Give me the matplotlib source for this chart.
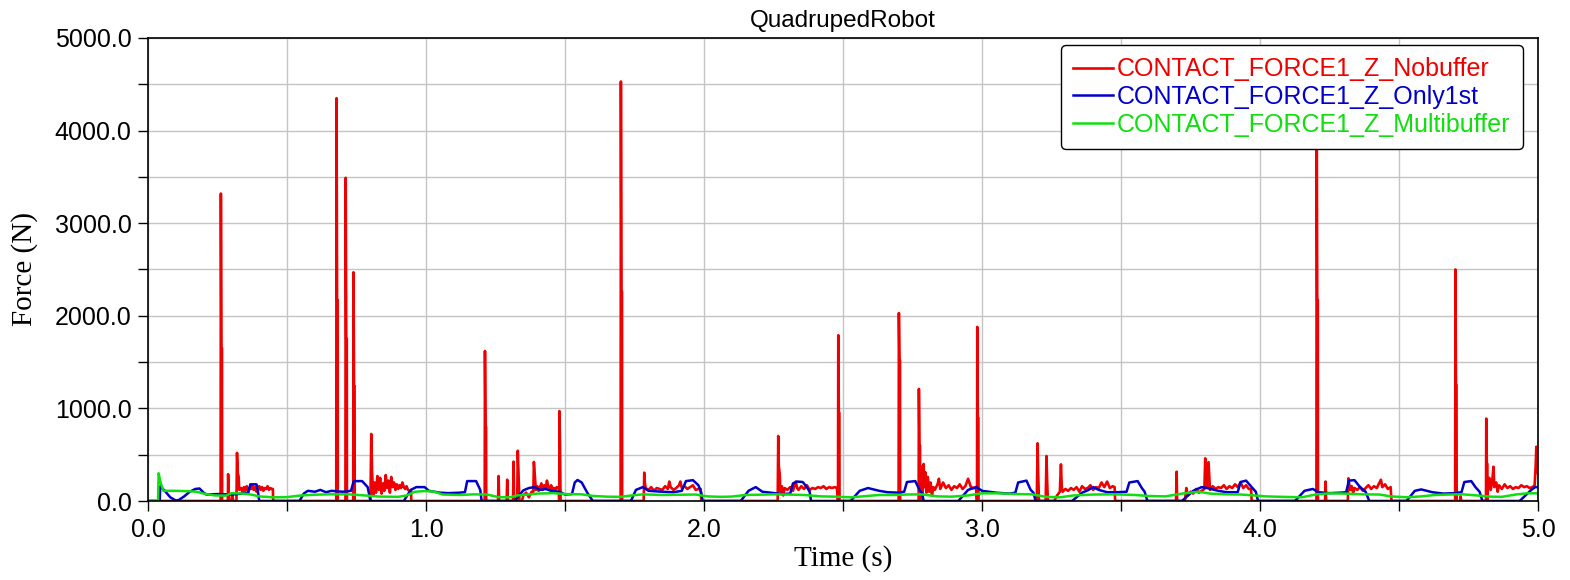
import numpy as np
import matplotlib.pyplot as plt
from matplotlib.ticker import MultipleLocator, FormatStrFormatter

plt.rcParams['font.family'] = ['Liberation Sans', 'DejaVu Sans']

# big red spikes (time, peak, lower thick part)
spike_t = [0.262, 0.678, 0.711, 0.739, 1.212, 1.701, 2.483, 2.701, 2.773, 2.983, 4.204, 4.703, 4.814]
spike_peak = [3320, 4350, 3490, 2470, 1620, 4530, 1790, 2030, 1210, 1880, 4300, 2500, 890]
spike_mid = [1650, 2170, 1750, 1240, 800, 2260, 950, 1520, 600, 900, 2170, 1250, 400]

# red (Nobuffer) rest of the trace
red_t = [0.000, 0.258, 0.268, 0.287, 0.288, 0.291, 0.300, 0.303, 0.306, 0.318, 0.320, 0.323, 0.326, 0.328,
         0.335, 0.340, 0.345, 0.350, 0.355, 0.360, 0.365, 0.370, 0.375, 0.380, 0.385, 0.390, 0.395, 0.400,
         0.405, 0.410, 0.415, 0.420, 0.425, 0.430, 0.435, 0.440, 0.445, 0.449, 0.450,
         0.676, 0.800, 0.803, 0.806, 0.810, 0.815, 0.820, 0.825, 0.830, 0.835, 0.840, 0.845, 0.850, 0.855,
         0.860, 0.865, 0.870, 0.875, 0.880, 0.885, 0.890, 0.895, 0.900, 0.905, 0.910, 0.915, 0.920, 0.925,
         0.930, 0.935, 0.940, 0.946, 0.947,
         1.259, 1.261, 1.263, 1.290, 1.292, 1.294, 1.313, 1.315, 1.317, 1.328, 1.330, 1.333, 1.336, 1.345,
         1.350, 1.360, 1.370, 1.380, 1.386, 1.388, 1.391, 1.395,
         1.400, 1.405, 1.410, 1.415, 1.420, 1.425, 1.430, 1.435, 1.440, 1.445, 1.450, 1.455, 1.460, 1.465,
         1.470, 1.476, 1.478, 1.479, 1.480, 1.482, 1.484,
         1.783, 1.785, 1.787, 1.790, 1.800, 1.810, 1.820, 1.830, 1.840, 1.850, 1.860, 1.870, 1.875, 1.880,
         1.890, 1.900, 1.910, 1.915, 1.920, 1.930, 1.940, 1.950, 1.960, 1.970, 1.980, 1.988, 1.990,
         2.265, 2.267, 2.269, 2.272, 2.275, 2.280, 2.285, 2.290, 2.300, 2.310, 2.320, 2.330, 2.335, 2.340,
         2.350, 2.360, 2.370, 2.380, 2.390, 2.400, 2.410, 2.420, 2.430, 2.440, 2.450, 2.460, 2.470, 2.478,
         2.778, 2.780, 2.783, 2.786, 2.790, 2.793, 2.796, 2.800, 2.805, 2.810, 2.815, 2.820, 2.825, 2.830,
         2.840, 2.845, 2.850, 2.860, 2.870, 2.880, 2.890, 2.900, 2.910, 2.920, 2.930, 2.940, 2.950, 2.960,
         2.970, 2.978,
         3.197, 3.200, 3.202, 3.205, 3.229, 3.232, 3.234, 3.237, 3.260, 3.270, 3.280, 3.284, 3.287, 3.290,
         3.300, 3.310, 3.320, 3.330, 3.340, 3.350, 3.360, 3.370, 3.380, 3.390, 3.400, 3.410, 3.420, 3.430,
         3.440, 3.450, 3.460, 3.470, 3.477, 3.479,
         3.698, 3.700, 3.702, 3.730, 3.735, 3.740, 3.750, 3.760, 3.770, 3.780, 3.790, 3.800, 3.803, 3.806,
         3.810, 3.815, 3.820, 3.830, 3.840, 3.850, 3.860, 3.870, 3.880, 3.890, 3.900, 3.910, 3.920, 3.930,
         3.940, 3.950, 3.960, 3.968, 3.970,
         4.234, 4.236, 4.238, 4.316, 4.318, 4.320, 4.325, 4.330, 4.335, 4.340, 4.350, 4.360, 4.370, 4.380,
         4.390, 4.400, 4.410, 4.420, 4.430, 4.435, 4.440, 4.450, 4.460, 4.470, 4.473,
         4.720, 4.722, 4.724, 4.820, 4.825, 4.830, 4.835, 4.840, 4.843, 4.850, 4.855, 4.860, 4.870, 4.880,
         4.890, 4.900, 4.910, 4.920, 4.930, 4.940, 4.950, 4.960, 4.970, 4.980, 4.988, 4.992, 4.994, 5.000]
red_f = [0, 0, 0, 0, 290, 0, 0, 80, 0, 0, 520, 300, 260, 120,
         140, 90, 150, 110, 160, 100, 140, 130, 170, 120, 150, 100, 140, 160,
         120, 150, 110, 140, 130, 160, 120, 140, 130, 130, 0,
         0, 0, 724, 300, 60, 200, 90, 270, 120, 250, 80, 190, 110, 280,
         140, 220, 90, 260, 150, 200, 120, 180, 130, 170, 140, 200, 150, 130,
         160, 120, 110, 110, 0,
         0, 270, 0, 0, 230, 0, 0, 425, 0, 0, 543, 280, 0, 0,
         60, 90, 40, 100, 100, 422, 290, 120,
         160, 110, 150, 190, 120, 170, 130, 220, 150, 120, 170, 130, 140, 120,
         150, 140, 140, 0, 972, 600, 0,
         0, 306, 200, 140, 120, 150, 110, 140, 130, 120, 160, 130, 210, 150,
         120, 140, 170, 210, 140, 160, 130, 150, 170, 120, 130, 130, 0,
         0, 702, 380, 300, 100, 160, 60, 140, 120, 150, 110, 210, 140, 120,
         160, 130, 170, 120, 140, 130, 150, 140, 160, 130, 150, 140, 150, 140,
         250, 100, 370, 80, 400, 150, 310, 90, 260, 100, 200, 60, 150, 120,
         180, 240, 130, 200, 140, 170, 120, 160, 140, 180, 130, 160, 240, 150,
         140, 150,
         0, 623, 300, 0, 0, 486, 250, 0, 0, 60, 100, 396, 150, 100,
         130, 110, 140, 120, 150, 100, 160, 130, 140, 170, 120, 150, 140, 200,
         150, 210, 140, 160, 150, 0,
         0, 316, 0, 0, 140, 60, 100, 80, 130, 90, 110, 130, 461, 400,
         150, 420, 120, 160, 130, 150, 140, 170, 130, 160, 140, 180, 150, 200,
         140, 170, 130, 130, 0,
         0, 210, 0, 0, 245, 200, 120, 160, 90, 140, 120, 150, 110, 140,
         170, 130, 160, 140, 200, 230, 150, 180, 130, 150, 0,
         0, 50, 0, 150, 250, 120, 200, 370, 150, 200, 100, 170, 130, 180,
         140, 160, 130, 150, 140, 170, 150, 160, 140, 150, 170, 400, 586, 300]

# blue (Only1st)
blue_t = [0.000, 0.042, 0.044, 0.060, 0.080, 0.100, 0.110, 0.130, 0.150, 0.170, 0.185, 0.200, 0.210, 0.250,
          0.300, 0.340, 0.360, 0.368, 0.390, 0.395, 0.400,
          0.545, 0.560, 0.575, 0.600, 0.620, 0.640, 0.660, 0.700, 0.730, 0.740, 0.770, 0.790, 0.800,
          0.920, 0.945, 0.965, 0.995, 1.010, 1.050, 1.080, 1.120, 1.140, 1.148, 1.180, 1.195, 1.200,
          1.318, 1.350, 1.370, 1.390, 1.410, 1.430, 1.450, 1.480, 1.500, 1.525, 1.535, 1.545, 1.560, 1.580, 1.600,
          1.737, 1.755, 1.780, 1.800, 1.850, 1.890, 1.920, 1.935, 1.960, 1.980, 1.990, 1.995,
          2.132, 2.160, 2.186, 2.210, 2.240, 2.280, 2.310, 2.320, 2.335, 2.355, 2.370, 2.380, 2.385,
          2.527, 2.560, 2.590, 2.630, 2.660, 2.700, 2.720, 2.730, 2.760, 2.775, 2.785, 2.790,
          2.915, 2.950, 2.980, 3.000, 3.050, 3.100, 3.120, 3.130, 3.160, 3.175, 3.185, 3.193,
          3.324, 3.360, 3.380, 3.400, 3.420, 3.450, 3.490, 3.520, 3.530, 3.560, 3.575, 3.585, 3.595,
          3.719, 3.760, 3.790, 3.810, 3.850, 3.880, 3.920, 3.930, 3.950, 3.970, 3.985, 3.993,
          4.126, 4.160, 4.190, 4.210, 4.250, 4.290, 4.310, 4.320, 4.340, 4.360, 4.380, 4.393,
          4.527, 4.557, 4.580, 4.620, 4.660, 4.700, 4.725, 4.735, 4.760, 4.775, 4.790, 4.800,
          4.934, 4.976, 4.990, 5.000]
blue_f = [0, 0, 160, 110, 40, 5, 10, 50, 100, 130, 135, 90, 70, 75,
          70, 80, 85, 180, 180, 110, 0,
          0, 80, 110, 100, 120, 95, 110, 100, 110, 215, 215, 150, 0,
          0, 120, 150, 150, 110, 90, 85, 90, 95, 215, 215, 120, 0,
          0, 115, 140, 150, 120, 130, 110, 100, 70, 75, 200, 227, 200, 90, 0,
          0, 120, 150, 110, 100, 95, 110, 215, 225, 170, 90, 0,
          0, 110, 150, 100, 90, 75, 80, 190, 210, 205, 150, 100, 0,
          0, 110, 140, 110, 95, 90, 100, 205, 215, 120, 80, 0,
          0, 120, 150, 110, 90, 80, 90, 200, 220, 120, 90, 0,
          0, 90, 115, 150, 120, 95, 95, 100, 200, 215, 140, 100, 0,
          0, 110, 150, 140, 110, 95, 95, 205, 220, 150, 100, 0,
          0, 110, 130, 95, 85, 90, 95, 220, 225, 150, 100, 0,
          0, 110, 125, 95, 80, 85, 95, 205, 215, 150, 100, 0,
          0, 120, 150, 150]

# green (Multibuffer)
green_t = [0.000, 0.036, 0.038, 0.045, 0.055, 0.100, 0.150, 0.175, 0.200, 0.240, 0.280, 0.300, 0.340, 0.370,
           0.400, 0.450, 0.500, 0.550, 0.600, 0.650, 0.720, 0.780, 0.830, 0.900, 0.930, 0.960, 1.000, 1.030,
           1.060, 1.120, 1.170, 1.220, 1.260, 1.300, 1.330, 1.400, 1.460, 1.500, 1.560, 1.600, 1.650, 1.700,
           1.740, 1.780, 1.850, 1.920, 1.970, 2.010, 2.060, 2.100, 2.150, 2.200, 2.250, 2.300, 2.360, 2.420,
           2.470, 2.530, 2.570, 2.630, 2.680, 2.730, 2.780, 2.840, 2.890, 2.950, 3.000, 3.060, 3.120, 3.180,
           3.230, 3.280, 3.330, 3.400, 3.480, 3.550, 3.600, 3.660, 3.720, 3.780, 3.820, 3.880, 3.930, 3.980,
           4.020, 4.080, 4.150, 4.200, 4.250, 4.300, 4.370, 4.430, 4.470, 4.530, 4.580, 4.630, 4.680, 4.730,
           4.780, 4.830, 4.870, 4.920, 4.960, 5.000]
green_f = [0, 0, 300, 200, 110, 110, 105, 100, 80, 60, 58, 85, 80, 70,
           50, 40, 42, 60, 68, 72, 72, 60, 48, 45, 60, 100, 108, 100,
           70, 65, 72, 70, 42, 40, 60, 80, 85, 75, 72, 55, 47, 45,
           60, 72, 65, 68, 70, 50, 45, 48, 65, 68, 72, 70, 65, 50,
           47, 40, 50, 65, 65, 70, 72, 50, 47, 60, 83, 83, 75, 72,
           45, 40, 60, 70, 72, 65, 54, 50, 80, 100, 80, 72, 70, 60,
           50, 45, 40, 70, 83, 80, 72, 70, 50, 40, 50, 65, 70, 72,
           60, 47, 45, 70, 83, 83]

labels = ['CONTACT_FORCE1_Z_Nobuffer', 'CONTACT_FORCE1_Z_Only1st', 'CONTACT_FORCE1_Z_Multibuffer']
colors = ['#ee0000', '#0000c8', '#11dd11']

# juntar picos con el resto de la traza roja
st = np.array(spike_t)
zeros = np.zeros(len(st))
all_t = np.concatenate([red_t, st - 0.001, st, st + 0.002, st + 0.004, st + 0.0045])
all_f = np.concatenate([red_f, zeros, spike_peak, spike_mid, spike_mid, zeros])
order = np.argsort(all_t, kind='stable')
red_x = all_t[order]
red_y = all_f[order]

fig = plt.figure(figsize=(15.7, 5.8), dpi=100)
ax = fig.add_axes([0.0943, 0.1362, 0.8853, 0.7983])

ax.plot(red_x, red_y, color=colors[0], lw=1.9, label=labels[0])
ax.plot(blue_t, blue_f, color=colors[1], lw=1.8, label=labels[1])
ax.plot(green_t, green_f, color=colors[2], lw=1.8, label=labels[2])

ax.set_xlim(0, 5)
ax.set_ylim(0, 5000)
ax.xaxis.set_major_locator(MultipleLocator(1.0))
ax.xaxis.set_minor_locator(MultipleLocator(0.5))
ax.yaxis.set_major_locator(MultipleLocator(1000))
ax.yaxis.set_minor_locator(MultipleLocator(500))
ax.xaxis.set_major_formatter(FormatStrFormatter('%.1f'))
ax.yaxis.set_major_formatter(FormatStrFormatter('%.1f'))
ax.grid(which='both', color='#c4c4c4', lw=1.0)
ax.set_axisbelow(True)
ax.tick_params(which='both', direction='out', length=7, width=1, color='black')
ax.tick_params(which='major', labelsize=18, pad=5)
for s in ax.spines.values():
    s.set_color('black')
    s.set_linewidth(1.2)

ax.set_title('QuadrupedRobot', fontsize=17.5, pad=8)
ax.set_xlabel('Time (s)', family='Liberation Serif', fontsize=21)
ax.set_ylabel('Force (N)', family='Liberation Serif', fontsize=21)
ax.xaxis.set_label_coords(0.5, -0.095)
ax.yaxis.set_label_coords(-0.079, 0.5)

leg = ax.legend(loc='upper right', bbox_to_anchor=(0.9892, 0.985), borderaxespad=0,
                fontsize=18, labelcolor='linecolor', handlelength=1.6, handletextpad=0.15,
                labelspacing=0.15, borderpad=0.5, fancybox=True, framealpha=1, edgecolor='black')
leg.get_frame().set_linewidth(1.0)
leg.get_frame().set_boxstyle('round', pad=0, rounding_size=0.2)

fig.savefig('out.png', dpi=100)
